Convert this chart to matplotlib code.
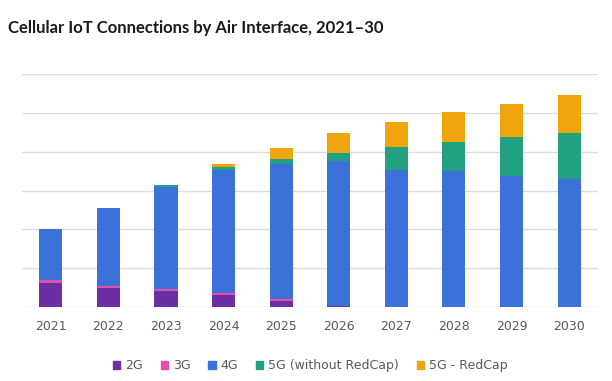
import matplotlib.pyplot as plt
import numpy as np
from matplotlib.patches import Patch

years = ["2021", "2022", "2023", "2024", "2025", "2026", "2027", "2028", "2029", "2030"]
g2 = [0.61, 0.48, 0.42, 0.30, 0.16, 0.02, 0.0, 0.0, 0.0, 0.0]
g3 = [0.08, 0.06, 0.05, 0.07, 0.05, 0.02, 0.0, 0.0, 0.0, 0.0]
g4 = [1.31, 2.01, 2.63, 3.17, 3.48, 3.71, 3.53, 3.50, 3.38, 3.29]
g5 = [0.0, 0.0, 0.04, 0.06, 0.13, 0.21, 0.59, 0.74, 0.99, 1.19]
redcap = [0.0, 0.0, 0.0, 0.08, 0.28, 0.53, 0.65, 0.77, 0.85, 0.98]

series = [("2G", g2, "#6c2ea3"), ("3G", g3, "#e64fa9"), ("4G", g4, "#3a72da"),
          ("5G (without RedCap)", g5, "#21a17f"), ("5G - RedCap", redcap, "#f0a40e")]

fig = plt.figure(figsize=(6.12, 3.81), dpi=100)
ax = fig.add_axes([0.036, 0.194, 0.941, 0.612])
x = np.arange(len(years))
bottom = np.zeros(len(years))
for name, vals, col in series:
    v = np.array(vals)
    ax.bar(x, v, 0.4, bottom=bottom, color=col, label=name, zorder=3)
    bottom += v

ax.set_xlim(-0.5, 9.5)
ax.set_ylim(0, 6)
ax.set_yticks(np.arange(0, 7, 1))
ax.yaxis.grid(True, color="#dcdcdc", linewidth=1.0, zorder=0)
ax.tick_params(axis="y", left=False, labelleft=False)
ax.tick_params(axis="x", length=0, labelsize=9, labelcolor="#595959", pad=9)
ax.set_xticks(x)
ax.set_xticklabels(years)
for s in ax.spines.values():
    s.set_visible(False)

handles = [Patch(color=c, label=n) for n, _, c in series]
fig.legend(handles=handles, loc="center", bbox_to_anchor=(0.507, 0.04), ncol=5,
           frameon=False, fontsize=9, handlelength=0.6, handleheight=0.6,
           handletextpad=0.4, columnspacing=1.4, labelcolor="#595959")

fig.text(0.013, 0.927, "Cellular IoT Connections by Air Interface, 2021\u201330",
         fontsize=12, fontweight="bold", color="#1a1a1a", family="Lato", va="center")

fig.savefig("out.png", dpi=100, facecolor="white")
